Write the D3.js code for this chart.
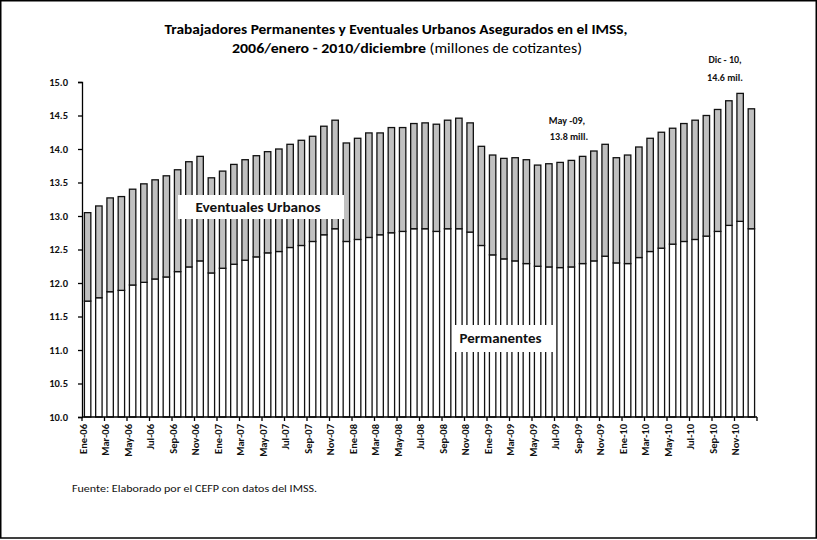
<!DOCTYPE html>
<html>
<head>
<meta charset="utf-8">
<script src="https://cdn.jsdelivr.net/npm/d3@7"></script>
<style>
body{margin:0;background:#fff;}
text{font-family:Carlito, Calibri, Lato, sans-serif;}
</style>
</head>
<body>
<div id="container"></div>
<script>
/**
 * CONSTANTS AND GLOBALS
 * */
const width = 817,
height = 540,
margin = {top: 82, bottom: 123, left: 82, right: 60};

/**
 * DATA (millones de cotizantes)
 * */
const meses = ["Ene","Feb","Mar","Abr","May","Jun","Jul","Ago","Sep","Oct","Nov","Dic"];
const anios = ["06","07","08","09","10"];

const permanentes = [
  11.73, 11.78, 11.87, 11.89, 11.97, 12.01, 12.06, 12.09, 12.17, 12.24, 12.33, 12.15,
  12.22, 12.28, 12.34, 12.39, 12.45, 12.47, 12.53, 12.56, 12.62, 12.72, 12.81, 12.62,
  12.65, 12.68, 12.72, 12.75, 12.77, 12.81, 12.81, 12.77, 12.81, 12.81, 12.76, 12.56,
  12.42, 12.36, 12.33, 12.29, 12.25, 12.24, 12.23, 12.24, 12.29, 12.33, 12.40, 12.30,
  12.29, 12.38, 12.47, 12.52, 12.58, 12.62, 12.65, 12.70, 12.77, 12.86, 12.92, 12.81
];

const eventuales = [
  1.32, 1.37, 1.40, 1.40, 1.43, 1.47, 1.48, 1.51, 1.52, 1.57, 1.56, 1.42,
  1.45, 1.49, 1.50, 1.51, 1.51, 1.53, 1.54, 1.57, 1.57, 1.62, 1.62, 1.47,
  1.51, 1.56, 1.52, 1.57, 1.55, 1.57, 1.58, 1.60, 1.62, 1.65, 1.63, 1.48,
  1.49, 1.50, 1.54, 1.55, 1.51, 1.54, 1.57, 1.59, 1.60, 1.64, 1.67, 1.57,
  1.62, 1.65, 1.69, 1.73, 1.73, 1.76, 1.78, 1.80, 1.82, 1.86, 1.91, 1.79
];

const yTicks = [10.0, 10.5, 11.0, 11.5, 12.0, 12.5, 13.0, 13.5, 14.0, 14.5, 15.0];

const categorias = anios.flatMap(a => meses.map(m => m + "-" + a));

/**
 * INIT
 * */
const svg = d3.select("#container")
  .append("svg")
  .attr("width", width)
  .attr("height", height);

// marco
svg.append("rect")
  .attr("x", 0.75).attr("y", 0.75)
  .attr("width", width - 1.5).attr("height", 538 - 0.75)
  .attr("fill", "white")
  .attr("stroke", "black")
  .attr("stroke-width", 1.5);

const x = d3.scaleBand()
  .domain(categorias)
  .range([margin.left, width - margin.right])
  .paddingInner(0.43)
  .paddingOuter(0.215);

const y = d3.scaleLinear()
  .domain([10, 15])
  .range([height - margin.bottom, margin.top])
  .clamp(true);

const rows = categorias.map((c, i) => ({mes: c, permanentes: permanentes[i], eventuales: eventuales[i]}));
const series = d3.stack().keys(["permanentes", "eventuales"])(rows);
const colores = {permanentes: "#ffffff", eventuales: "#c0c0c0"};

svg.append("g")
  .selectAll("g")
  .data(series)
  .join("g")
  .attr("fill", d => colores[d.key])
  .selectAll("rect")
  .data(d => d)
  .join("rect")
  .attr("x", d => x(d.data.mes))
  .attr("width", x.bandwidth())
  .attr("y", d => y(d[1]))
  .attr("height", d => y(d[0]) - y(d[1]))
  .attr("stroke", "#111")
  .attr("stroke-width", 1.3);

// eje y
const yAxis = svg.append("g")
  .attr("transform", `translate(${margin.left},0)`)
  .call(d3.axisLeft(y).tickValues(yTicks).tickFormat(d3.format(".1f")).tickSize(4).tickPadding(10));
yAxis.select(".domain").attr("stroke", "black").attr("stroke-width", 1.3);
yAxis.selectAll(".tick line").attr("stroke", "black").attr("stroke-width", 1.3);
yAxis.selectAll(".tick text")
  .attr("fill", "#111")
  .style("font-size", "10.5px")
  .style("font-weight", "bold")
  .style("font-family", "Carlito, Calibri, Lato, sans-serif");

// eje x
const x0 = x.range()[0], paso = x.step();
const bordes = d3.range(0, categorias.length + 1, 2);
const xAxis = svg.append("g");
xAxis.append("line")
  .attr("x1", x0).attr("x2", x.range()[1])
  .attr("y1", y(10)).attr("y2", y(10))
  .attr("stroke", "black").attr("stroke-width", 1.3);
xAxis.selectAll(".tk")
  .data(bordes)
  .join("line")
  .attr("class", "tk")
  .attr("x1", i => x0 + i * paso).attr("x2", i => x0 + i * paso)
  .attr("y1", y(10)).attr("y2", y(10) + 4)
  .attr("stroke", "black").attr("stroke-width", 1.3);

xAxis.selectAll(".lbl")
  .data(categorias.filter((c, i) => i % 2 === 0))
  .join("text")
  .attr("class", "lbl")
  .attr("transform", d => `translate(${x(d) - x.step() * x.paddingInner() / 2 + 1},${y(10) + 7}) rotate(-90)`)
  .attr("dy", "0.35em")
  .attr("text-anchor", "end")
  .attr("fill", "#111")
  .style("font-size", "10.5px")
  .style("font-weight", "bold")
  .text(d => d);

// titulo
svg.append("text")
  .attr("x", 396).attr("y", 34)
  .attr("text-anchor", "middle")
  .attr("textLength", 463)
  .attr("lengthAdjust", "spacingAndGlyphs")
  .style("font-size", "14px").style("font-weight", "bold")
  .text("Trabajadores Permanentes y Eventuales Urbanos Asegurados en el IMSS,");

const t2 = svg.append("text")
  .attr("x", 407).attr("y", 53)
  .attr("text-anchor", "middle")
  .attr("textLength", 350)
  .attr("lengthAdjust", "spacingAndGlyphs")
  .style("font-size", "14px");
t2.append("tspan")
  .style("font-weight", "bold")
  .text("2006/enero - 2010/diciembre ");
t2.append("tspan")
  .text("(millones de cotizantes)");

// anotaciones
const notas = [
  {x: 725, y: 63, t: "Dic  - 10,"},
  {x: 725, y: 81, t: "14.6 mil."},
  {x: 567, y: 124, t: "May -09,"},
  {x: 569, y: 140, t: "13.8 mill."}
];
svg.selectAll(".nota")
  .data(notas)
  .join("text")
  .attr("class", "nota")
  .attr("x", d => d.x).attr("y", d => d.y)
  .attr("text-anchor", "middle")
  .attr("fill", "#111")
  .style("font-size", "10px").style("font-weight", "bold")
  .text(d => d.t);

// etiquetas de serie
const etiquetas = [
  {x: 178, y: 195, w: 166, h: 24, t: "Eventuales Urbanos", tl: 125, fs: 13.5},
  {x: 452, y: 325, w: 103, h: 27, t: "Permanentes", tl: 82, fs: 13.5}
];
const eg = svg.selectAll(".etq")
  .data(etiquetas)
  .join("g")
  .attr("class", "etq");
eg.append("rect")
  .attr("x", d => d.x).attr("y", d => d.y)
  .attr("width", d => d.w).attr("height", d => d.h)
  .attr("fill", "white");
eg.append("text")
  .attr("x", d => d.x + d.w / 2 - 3)
  .attr("y", d => d.y + d.h / 2 + 4.5)
  .attr("text-anchor", "middle")
  .attr("textLength", d => d.tl)
  .attr("lengthAdjust", "spacingAndGlyphs")
  .attr("fill", "#111")
  .style("font-size", d => d.fs + "px").style("font-weight", "bold")
  .text(d => d.t);

// fuente
svg.append("text")
  .attr("x", 72).attr("y", 492)
  .attr("textLength", 245)
  .attr("lengthAdjust", "spacingAndGlyphs")
  .attr("fill", "#111")
  .style("font-size", "10px")
  .text("Fuente: Elaborado por el CEFP con datos del IMSS.");
</script>
</body>
</html>
